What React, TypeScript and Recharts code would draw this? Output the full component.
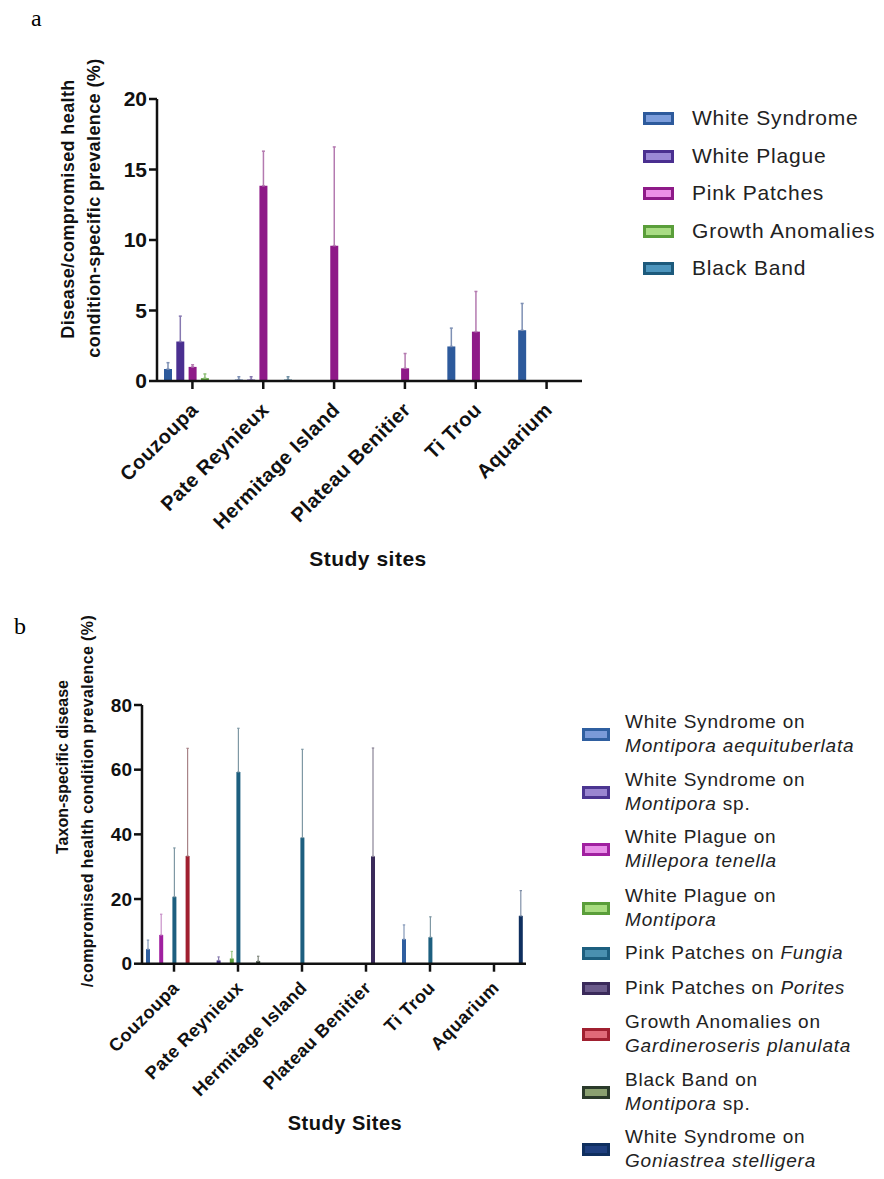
import React from 'react';
import { BarChart, Bar, XAxis, YAxis, ErrorBar } from 'recharts';

const sites = ['Couzoupa', 'Pate Reynieux', 'Hermitage Island', 'Plateau Benitier', 'Ti Trou', 'Aquarium'];

// panel a: condition-specific prevalence (mean) and upper SD
const whiteSyndrome = [0.85, 0.1, 0, 0, 2.45, 3.6];
const whiteSyndromeSd = [0.45, 0.2, 0, 0, 1.3, 1.9];
const whitePlague = [2.8, 0.1, 0, 0, 0, 0];
const whitePlagueSd = [1.8, 0.2, 0, 0, 0, 0];
const pinkPatches = [1.0, 13.85, 9.6, 0.9, 3.5, 0];
const pinkPatchesSd = [0.15, 2.45, 7.0, 1.05, 2.85, 0];
const growthAnomalies = [0.2, 0, 0, 0, 0, 0];
const growthAnomaliesSd = [0.3, 0, 0, 0, 0, 0];
const blackBand = [0, 0.1, 0, 0, 0, 0];
const blackBandSd = [0, 0.2, 0, 0, 0, 0];

// panel b: taxon-specific prevalence
const wsMontiporaAeq = [4.5, 0, 0, 0, 7.6, 0];
const wsMontiporaAeqSd = [2.8, 0, 0, 0, 4.4, 0];
const wsMontiporaSp = [0, 1.0, 0, 0, 0, 0];
const wsMontiporaSpSd = [0, 1.1, 0, 0, 0, 0];
const wpMillepora = [8.9, 0, 0, 0, 0, 0];
const wpMilleporaSd = [6.4, 0, 0, 0, 0, 0];
const wpMontipora = [0, 1.6, 0, 0, 0, 0];
const wpMontiporaSd = [0, 2.2, 0, 0, 0, 0];
const ppFungia = [20.7, 59.3, 39.0, 0, 8.2, 0];
const ppFungiaSd = [15.1, 13.5, 27.3, 0, 6.3, 0];
const ppPorites = [0, 0, 0, 33.2, 0, 0];
const ppPoritesSd = [0, 0, 0, 33.5, 0, 0];
const gaGardineroseris = [33.3, 0, 0, 0, 0, 0];
const gaGardineroserisSd = [33.3, 0, 0, 0, 0, 0];
const bbMontiporaSp = [0, 0.8, 0, 0, 0, 0];
const bbMontiporaSpSd = [0, 1.5, 0, 0, 0, 0];
const wsGoniastrea = [0, 0, 0, 0, 0, 14.8];
const wsGoniastreaSd = [0, 0, 0, 0, 0, 7.8];

const ticksA = [0, 5, 10, 15, 20];
const ticksB = [0, 20, 40, 60, 80];

type Series = {
  key: string;
  label: React.ReactNode;
  values: number[];
  sd: number[];
  color: string;
  light: string;
  err: string;
};

const seriesA: Series[] = [
  { key: 'ws', label: 'White Syndrome', values: whiteSyndrome, sd: whiteSyndromeSd, color: '#2d5a9c', light: '#7c9ddb', err: '#7e90b4' },
  { key: 'wp', label: 'White Plague', values: whitePlague, sd: whitePlagueSd, color: '#4a2f90', light: '#9b88d6', err: '#8678b0' },
  { key: 'pp', label: 'Pink Patches', values: pinkPatches, sd: pinkPatchesSd, color: '#8e1a88', light: '#ec8fe6', err: '#b47ab0' },
  { key: 'ga', label: 'Growth Anomalies', values: growthAnomalies, sd: growthAnomaliesSd, color: '#5a9e3a', light: '#a9dc84', err: '#8fbf78' },
  { key: 'bb', label: 'Black Band', values: blackBand, sd: blackBandSd, color: '#1d5a7c', light: '#4d95bd', err: '#6f8fa3' },
];

const it = (s: string) => <i>{s}</i>;

const seriesB: Series[] = [
  { key: 's1', label: <>White Syndrome on<br />{it('Montipora aequituberlata')}</>, values: wsMontiporaAeq, sd: wsMontiporaAeqSd, color: '#2f5fa0', light: '#7a9ad8', err: '#8498b8' },
  { key: 's2', label: <>White Syndrome on<br />{it('Montipora')} sp.</>, values: wsMontiporaSp, sd: wsMontiporaSpSd, color: '#4b3591', light: '#9a86d0', err: '#8a7eb0' },
  { key: 's3', label: <>White Plague on<br />{it('Millepora tenella')}</>, values: wpMillepora, sd: wpMilleporaSd, color: '#a020a0', light: '#e890e8', err: '#c890c8' },
  { key: 's4', label: <>White Plague on<br />{it('Montipora')}</>, values: wpMontipora, sd: wpMontiporaSd, color: '#5a9e3a', light: '#a8dc80', err: '#9cc888' },
  { key: 's5', label: <>Pink Patches on {it('Fungia')}</>, values: ppFungia, sd: ppFungiaSd, color: '#1d5f7f', light: '#4a90b0', err: '#7f98a4' },
  { key: 's6', label: <>Pink Patches on {it('Porites')}</>, values: ppPorites, sd: ppPoritesSd, color: '#3a2a5a', light: '#6a5a8a', err: '#8a8496' },
  { key: 's7', label: <>Growth Anomalies on<br />{it('Gardineroseris planulata')}</>, values: gaGardineroseris, sd: gaGardineroserisSd, color: '#a02030', light: '#e06a78', err: '#a88488' },
  { key: 's8', label: <>Black Band on<br />{it('Montipora')} sp.</>, values: bbMontiporaSp, sd: bbMontiporaSpSd, color: '#2a3a2a', light: '#8aa070', err: '#80887e' },
  { key: 's9', label: <>White Syndrome on<br />{it('Goniastrea stelligera')}</>, values: wsGoniastrea, sd: wsGoniastreaSd, color: '#0f2f5f', light: '#1f3f7f', err: '#8090a8' },
];

const buildRows = (series: Series[]) =>
  sites.map((site, i) => {
    const row: Record<string, any> = { site };
    series.forEach((s) => {
      row[s.key] = s.values[i];
      row[s.key + 'Err'] = [0, s.sd[i]];
    });
    return row;
  });

const dataA = buildRows(seriesA);
const dataB = buildRows(seriesB);

const FONT = '"Liberation Sans", Arial, Helvetica, sans-serif';

const SiteTick = (props: any) => {
  const { x, y, payload, size, dx, dy, spacing } = props;
  const tx = x + dx;
  const ty = y + dy;
  return (
    <text
      x={tx}
      y={ty}
      transform={`rotate(-45 ${tx} ${ty})`}
      textAnchor="end"
      dominantBaseline="central"
      fontSize={size}
      fontWeight="bold"
      fontFamily={FONT}
      letterSpacing={spacing}
      fill="#111"
    >
      {payload.value}
    </text>
  );
};

// each line of a rotated axis title gets its own centre
const rotatedLines = (lines: { text: string; cx: number; cy: number; size: number; spacing: number }[]) => () => (
  <g>
    {lines.map((l, i) => (
      <text
        key={i}
        transform={`rotate(-90 ${l.cx} ${l.cy})`}
        x={l.cx}
        y={l.cy}
        textAnchor="middle"
        dominantBaseline="central"
        fontSize={l.size}
        fontWeight="bold"
        fontFamily={FONT}
        letterSpacing={l.spacing}
        fill="#111"
      >
        {l.text}
      </text>
    ))}
  </g>
);

const xTitle = (text: string, cx: number, cy: number, size: number) => () => (
  <text x={cx} y={cy} textAnchor="middle" dominantBaseline="central" fontSize={size} fontWeight="bold" fontFamily={FONT} letterSpacing={0.5} fill="#111">
    {text}
  </text>
);

function Legend({ series, left, rowTops, swW, swH, fontSize, lineHeight, textLeft }: any) {
  return (
    <div style={{ position: 'absolute', left, top: 0, fontFamily: FONT, fontSize, color: '#222', lineHeight: `${lineHeight}px`, letterSpacing: 0.8 }}>
      {series.map((s: Series, i: number) => (
        <div key={s.key} style={{ position: 'absolute', top: rowTops[i], left: 0, whiteSpace: 'nowrap', display: 'flex', alignItems: 'center' }}>
          <div style={{ width: swW, height: swH, boxSizing: 'border-box', border: `3px solid ${s.color}`, background: s.light, flex: 'none' }} />
          <div style={{ marginLeft: textLeft - swW }}>{s.label}</div>
        </div>
      ))}
    </div>
  );
}

const axisStroke = { stroke: '#111', strokeWidth: 2.5 };

export default function App() {
  return (
    <div style={{ position: 'absolute', left: 0, top: 0, width: 884, height: 1179, background: '#fff', overflow: 'hidden' }}>
      <div style={{ position: 'absolute', left: 31, top: 5, fontFamily: '"Liberation Serif", serif', fontSize: 24 }}>a</div>
      <div style={{ position: 'absolute', left: 14, top: 613, fontFamily: '"Liberation Serif", serif', fontSize: 24 }}>b</div>

      <div style={{ position: 'absolute', left: 0, top: 0 }}>
        <BarChart width={884} height={600} data={dataA} margin={{ top: 99, right: 302, left: 0, bottom: 0 }} barSize={8} barGap={4.3}>
          <XAxis
            dataKey="site"
            height={219}
            interval={0}
            axisLine={axisStroke}
            tickLine={axisStroke}
            tickSize={8}
            tick={(p: any) => <SiteTick {...p} size={20} dx={2} dy={15} spacing={0.5} />}
            label={{ content: xTitle('Study sites', 368, 558, 21) }}
          />
          <YAxis
            width={157}
            domain={[0, 20]}
            ticks={ticksA}
            interval={0}
            axisLine={axisStroke}
            tickLine={axisStroke}
            tickSize={8}
            tick={{ fontSize: 21, fontWeight: 'bold', fill: '#111', fontFamily: FONT }}
            label={{
              content: rotatedLines([
                { text: 'Disease/compromised health', cx: 68, cy: 209, size: 18, spacing: 0.4 },
                { text: 'condition-specific prevalence (%)', cx: 94, cy: 208, size: 18, spacing: 0.4 },
              ]),
            }}
          />
          {seriesA.map((s) => (
            <Bar key={s.key} dataKey={s.key} fill={s.color} isAnimationActive={false}>
              <ErrorBar dataKey={s.key + 'Err'} width={1.5} strokeWidth={1.5} stroke={s.err} direction="y" />
            </Bar>
          ))}
        </BarChart>
      </div>

      <div style={{ position: 'absolute', left: 0, top: 600 }}>
        <BarChart width={884} height={579} data={dataB} margin={{ top: 105, right: 358, left: 0, bottom: 0 }} barSize={4} barGap={2.6}>
          <XAxis
            dataKey="site"
            height={215.3}
            interval={0}
            axisLine={axisStroke}
            tickLine={axisStroke}
            tickSize={8}
            tick={(p: any) => <SiteTick {...p} size={18} dx={2} dy={11} spacing={0.5} />}
            label={{ content: xTitle('Study Sites', 345, 523, 20) }}
          />
          <YAxis
            width={142}
            domain={[0, 80]}
            ticks={ticksB}
            interval={0}
            axisLine={axisStroke}
            tickLine={axisStroke}
            tickSize={8}
            tick={{ fontSize: 19, fontWeight: 'bold', fill: '#111', fontFamily: FONT }}
            label={{
              content: rotatedLines([
                { text: 'Taxon-specific disease', cx: 62, cy: 167, size: 16, spacing: 0 },
                { text: '/compromised health condition prevalence (%)', cx: 87, cy: 201, size: 16, spacing: 0.4 },
              ]),
            }}
          />
          {seriesB.map((s) => (
            <Bar key={s.key} dataKey={s.key} fill={s.color} isAnimationActive={false}>
              <ErrorBar dataKey={s.key + 'Err'} width={1.2} strokeWidth={1.2} stroke={s.err} direction="y" />
            </Bar>
          ))}
        </BarChart>
      </div>

      <Legend series={seriesA} left={643} rowTops={[103, 141, 178, 216, 253]} swW={31} swH={13} fontSize={21} lineHeight={30} textLeft={49} />
      <Legend
        series={seriesB}
        left={582}
        rowTops={[710, 768, 825, 884, 941, 976, 1010, 1068, 1125]}
        swW={28}
        swH={13}
        fontSize={19}
        lineHeight={24}
        textLeft={43}
      />
    </div>
  );
}
